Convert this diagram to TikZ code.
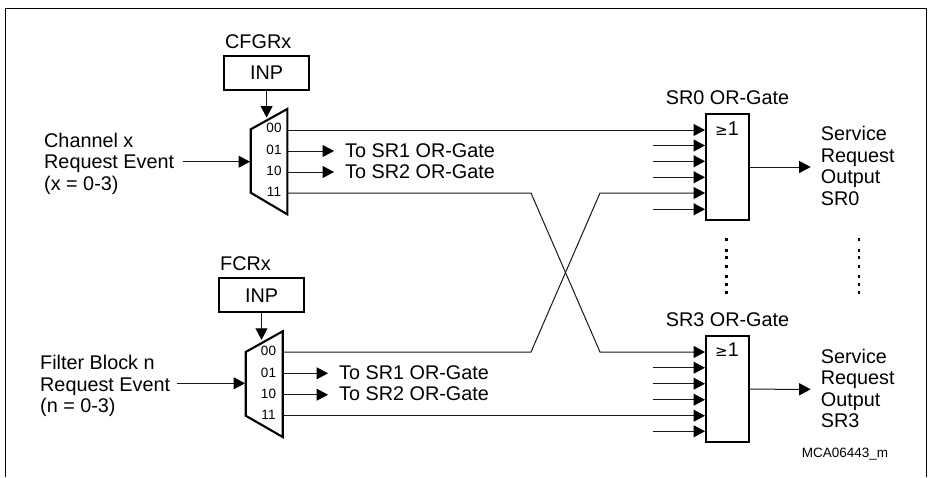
\documentclass[tikz,border=0pt]{standalone}
\usepackage{fontspec}
\setmainfont{Liberation Sans}
\newfontfamily\symfont{DejaVu Sans}
\usetikzlibrary{arrows.meta,calc}
\tikzset{
  thin line/.style={line width=1pt,black!90},
  conn/.style={thin line,-{Triangle[length=11.5pt,width=12pt,color=black]}},
  heavy/.style={draw=black,line width=2.1pt,line join=miter},
  lbl/.style={inner sep=0pt,anchor=west,align=left,font=\fontsize{19.8}{21.5}\selectfont},
  port/.style={inner sep=0pt,font=\fontsize{13.5}{13.5}\selectfont},
  inpbox/.style={heavy,inner sep=0pt,minimum width=85pt,minimum height=34pt,font=\fontsize{19.8}{21.5}\selectfont},
  gatebox/.style={heavy,inner sep=0pt,minimum width=43pt,minimum height=106pt},
  gatesym/.style={inner sep=0pt,font=\fontsize{19.8}{19.8}\selectfont},
}
\newcommand{\gesym}{{\symfont\fontsize{15}{15}\selectfont ≥}1}
\begin{document}
\begin{tikzpicture}[x=1pt,y=-1pt]
\useasboundingbox (0,0) rectangle (928,477);
\fill[white] (0,0) rectangle (928,477);
% frame
\draw[line width=1.2pt,black] (5.5,477) -- (5.5,8.5) -- (926.5,8.5) -- (926.5,477);

% register boxes
\node[lbl] (cfgr) at (225,42) {CFGRx};
\node[inpbox] (inpa) at (266.6,73) {INP};
\node[lbl] (fcr) at (220,264) {FCRx};
\node[inpbox] (inpb) at (261.5,295.3) {INP};

% multiplexers
\draw[heavy] (250.7,129.3) -- (287.3,109) -- (287.3,214.3) -- (250.7,192.7) -- cycle;
\draw[heavy] (245.7,352) -- (282.7,331.3) -- (282.7,437) -- (245.7,415.7) -- cycle;
\coordinate (muxatop) at (266.6,117.5);
\coordinate (muxbtop) at (261.5,339.8);
\coordinate (muxain) at (250,161.7);
\coordinate (muxbin) at (245,383.3);
\foreach \n/\y in {00/130,01/151,10/172,11/193} \coordinate (a\n) at (287.3,\y);
\foreach \n/\y in {00/352,01/373.3,10/394.7,11/415.7} \coordinate (b\n) at (282.7,\y);
\foreach \n/\y in {00/128,01/150,10/171,11/192} \node[port] (pa\n) at (274,\y) {\n};
\foreach \n/\y in {00/351,01/373,10/394,11/415} \node[port] (pb\n) at (268.5,\y) {\n};

% gates
\node[gatebox] (gatea) at (727.2,167) {};
\node[gatebox] (gateb) at (727.2,389.2) {};
\node[gatesym] (gea) at (727,129) {\gesym};
\node[gatesym] (geb) at (727,350) {\gesym};
\node[lbl] (sra) at (665.7,98) {SR0 OR-Gate};
\node[lbl] (srb) at (665.7,320) {SR3 OR-Gate};

% gate input ports
\foreach \i/\y in {0/130,1/145.5,2/161.3,3/177.3,4/193,5/209.3} \coordinate (ga\i) at (705,\y);
\foreach \i/\y in {0/352,1/367.7,2/383.7,3/399.7,4/415.7,5/431.3} \coordinate (gb\i) at (705,\y);
\foreach \i in {1,2,3,5} {
  \coordinate (fa\i) at ($(ga\i)+(-51.7,0)$);
  \draw[conn] (fa\i) -- (ga\i);
}
\foreach \i in {1,2,3,5} {
  \coordinate (fb\i) at ($(gb\i)+(-51.7,0)$);
  \draw[conn] (fb\i) -- (gb\i);
}

% register to mux
\draw[conn] (inpa.south -| muxatop) -- (muxatop);
\draw[conn] (inpb.south -| muxbtop) -- (muxbtop);

% event inputs
\node[lbl] (cha) at (44,163.5) {Channel x\\Request Event\\(x = 0-3)};
\node[lbl] (flt) at (40,386) {Filter Block n\\Request Event\\(n = 0-3)};
\coordinate (ina) at (182.7,161.7);
\coordinate (inb) at (176.7,383.3);
\draw[conn] (ina) -- (muxain);
\draw[conn] (inb) -- (muxbin);

% mux outputs
\draw[conn] (a00) -- (ga0);
\node[lbl] (toa1) at (345,150.5) {To SR1 OR-Gate};
\node[lbl] (toa2) at (345,171.5) {To SR2 OR-Gate};
\node[lbl] (tob1) at (339,372.5) {To SR1 OR-Gate};
\node[lbl] (tob2) at (339,394) {To SR2 OR-Gate};
\coordinate (ta1) at (334,151);
\coordinate (ta2) at (334,172);
\coordinate (tb1) at (328,373.3);
\coordinate (tb2) at (328,394.7);
\draw[conn] (a01) -- (ta1);
\draw[conn] (a10) -- (ta2);
\draw[conn] (b01) -- (tb1);
\draw[conn] (b10) -- (tb2);
\draw[conn] (b11) -- (gb4);
% crossing
\coordinate (xa) at (531,193);
\coordinate (xb) at (600,352);
\coordinate (xc) at (531,352);
\coordinate (xd) at (600,193);
\draw[conn] (a11) -- (xa) -- (xb) -- (gb0);
\draw[conn] (b00) -- (xc) -- (xd) -- (ga4);

% gate outputs
\coordinate (outa) at (810.7,167);
\coordinate (outb) at (810.7,389.3);
\draw[conn] (gatea.east) -- (outa);
\draw[conn] (gateb.east) -- (outb);
\node[lbl] (sva) at (820.7,166) {Service\\Request\\Output\\SR0};
\node[lbl] (svb) at (820.7,388.5) {Service\\Request\\Output\\SR3};

% continuation dots
\foreach \x in {726.3,859}
  \foreach \y in {239.3,250.3,257.3,266.3,276.3,284.3,292.3}
    \fill[black] (\x-1.3,\y-1.3) rectangle (\x+1.3,\y+1.3);

\node[inner sep=0pt,anchor=west,font=\fontsize{13.5}{13.5}\selectfont] (code) at (801.7,454) {MCA06443\_m};
\end{tikzpicture}
\end{document}
